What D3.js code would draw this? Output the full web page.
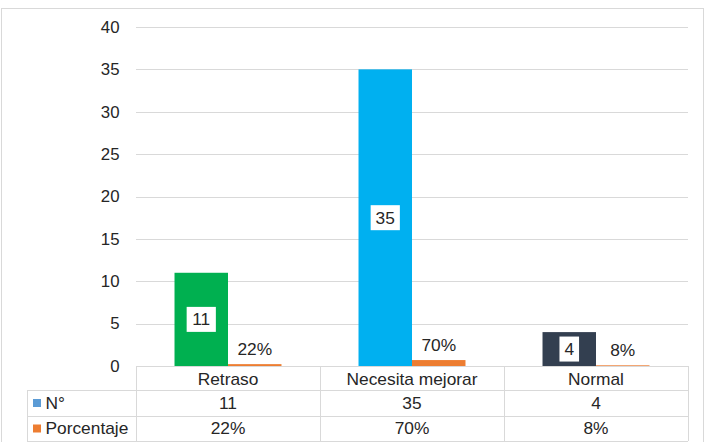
<!DOCTYPE html>
<html><head><meta charset="utf-8">
<script src="https://cdn.jsdelivr.net/npm/d3@7"></script>
<style>body{margin:0;background:#fff}svg{display:block;font-family:"Liberation Sans",Arial,sans-serif}</style>
</head><body>
<script>
const categories = ["Retraso", "Necesita mejorar", "Normal"];
const seriesNames = ["N°", "Porcentaje"];
const counts = [11, 35, 4];
const percents = [0.22, 0.70, 0.08];
const percentLabels = ["22%", "70%", "8%"];
const yTicks = [0, 5, 10, 15, 20, 25, 30, 35, 40];
const barColors = ["#00B050", "#00B0F0", "#333F50"];
const legendColors = ["#5B9BD5", "#ED7D31"];

const W = 705, H = 442;
const TXT = "#262626";
const svg = d3.select("body").append("svg").attr("width", W).attr("height", H);

function label(parent, x, y, t, anchor, fs) {
  return parent.append("text")
    .attr("transform", `translate(${x},${y}) scale(1.02,1)`)
    .attr("dy", "0.35em").attr("text-anchor", anchor || "middle")
    .attr("font-size", fs || 17).attr("fill", TXT).text(t);
}

// outer border
svg.append("rect").attr("x", 1.5).attr("y", 8.5).attr("width", 702).attr("height", 440)
  .attr("fill", "#fff").attr("stroke", "#d9d9d9");

const x = d3.scaleBand().domain(categories).range([136, 688]);
const inner = d3.scaleBand().domain(seriesNames).range([0, x.bandwidth()]).paddingOuter(0.72).paddingInner(0);
const y = d3.scaleLinear().domain([0, 40]).range([366, 27]);

// gridlines
svg.append("g").selectAll("line").data(yTicks).join("line")
  .attr("x1", 136).attr("x2", 688)
  .attr("y1", d => Math.round(y(d)) + 0.5).attr("y2", d => Math.round(y(d)) + 0.5)
  .attr("stroke", "#d9d9d9").attr("stroke-width", 1);

// y tick labels
const yg = svg.append("g");
yTicks.forEach(d => label(yg, 119.5, y(d), d, "end", 16.5));

// bars N°
const g = svg.append("g");
g.selectAll("rect.n").data(categories).join("rect").attr("class", "n")
  .attr("x", c => x(c) + inner("N°"))
  .attr("width", inner.bandwidth())
  .attr("y", (c, i) => y(counts[i]))
  .attr("height", (c, i) => y(0) - y(counts[i]))
  .attr("fill", (c, i) => barColors[i]);

// bars Porcentaje
g.selectAll("rect.p").data(categories).join("rect").attr("class", "p")
  .attr("x", c => x(c) + inner("Porcentaje"))
  .attr("width", inner.bandwidth())
  .attr("y", (c, i) => y(percents[i]))
  .attr("height", (c, i) => y(0) - y(percents[i]))
  .attr("fill", legendColors[1]);

// count labels with white boxes
categories.forEach((c, i) => {
  const cx = x(c) + inner("N°") + inner.bandwidth() / 2;
  const cy = (y(counts[i]) + y(0)) / 2;
  const t = String(counts[i]);
  const bw = t.length * 9.6 + 10;
  svg.append("rect").attr("x", cx - bw / 2).attr("y", cy - 12.5).attr("width", bw).attr("height", 25).attr("fill", "#fff");
  label(svg, cx, cy, t);
});

// percent labels
categories.forEach((c, i) => {
  const cx = x(c) + inner("Porcentaje") + inner.bandwidth() / 2;
  label(svg, cx, y(percents[i]) - 15, percentLabels[i]);
});

// data table
const tableLeft = 27, plotL = 136, plotR = 688;
const rowsY = [366, 390, 416, 441];
const lc = "#d9d9d9";
const tg = svg.append("g").attr("stroke", lc).attr("stroke-width", 1).attr("fill", "none");
tg.append("line").attr("x1", plotL).attr("x2", plotR).attr("y1", rowsY[0] + 0.5).attr("y2", rowsY[0] + 0.5);
[1, 2, 3].forEach(k => tg.append("line").attr("x1", tableLeft).attr("x2", plotR).attr("y1", rowsY[k] + 0.5).attr("y2", rowsY[k] + 0.5));
tg.append("line").attr("x1", tableLeft + 0.5).attr("x2", tableLeft + 0.5).attr("y1", rowsY[1]).attr("y2", rowsY[3]);
const colEdges = [plotL, ...categories.map(c => x(c) + x.bandwidth())];
colEdges.forEach(e => tg.append("line").attr("x1", Math.round(e) + 0.5).attr("x2", Math.round(e) + 0.5).attr("y1", rowsY[0]).attr("y2", rowsY[3]));

// header texts
categories.forEach(c => label(svg, x(c) + x.bandwidth() / 2, (rowsY[0] + rowsY[1]) / 2 + 1, c));

const rowVals = [counts.map(String), percentLabels];
seriesNames.forEach((s, r) => {
  const cy = (rowsY[r + 1] + rowsY[r + 2]) / 2;
  svg.append("rect").attr("x", 33).attr("y", cy - 4).attr("width", 8).attr("height", 8).attr("fill", legendColors[r]);
  label(svg, 45.5, cy, s, "start");
  categories.forEach((c, i) => label(svg, x(c) + x.bandwidth() / 2, cy, rowVals[r][i]));
});
</script>
</body></html>
